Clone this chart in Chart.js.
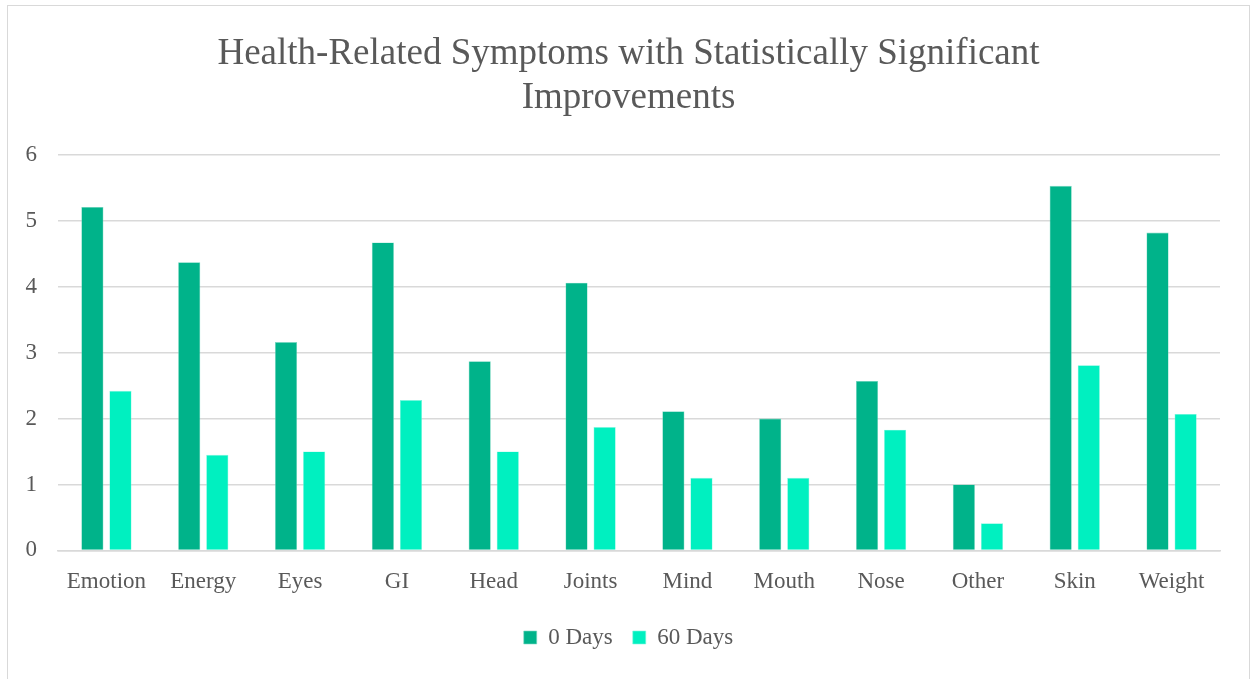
<!DOCTYPE html>
<html>
<head>
<meta charset="utf-8">
<script src="https://cdn.jsdelivr.net/npm/chart.js@4/dist/chart.umd.min.js"></script>
<style>
  html, body { margin: 0; padding: 0; background: #fff; }
  #frame {
    position: absolute; left: 7px; top: 5px;
    width: 1243px; height: 680px;
    border: 1px solid #d9d9d9; box-sizing: border-box;
  }
  #wrap { position: absolute; left: 0; top: 0; width: 1241px; height: 678px; }
</style>
</head>
<body>
<div id="frame"><div id="wrap"><canvas id="chart"></canvas></div></div>
<script>
// categories and series
const categories = ['Emotion', 'Energy', 'Eyes', 'GI', 'Head', 'Joints', 'Mind', 'Mouth', 'Nose', 'Other', 'Skin', 'Weight'];
const days0 = [5.21, 4.37, 3.16, 4.67, 2.87, 4.06, 2.11, 2.0, 2.57, 1.0, 5.53, 4.82];
const days60 = [2.42, 1.45, 1.50, 2.28, 1.50, 1.87, 1.10, 1.10, 1.83, 0.41, 2.81, 2.07];
const yTicks = [0, 1, 2, 3, 4, 5, 6];

const FONT = '"Liberation Serif", "DejaVu Serif", serif';
const TEXT = '#595959';

new Chart(document.getElementById('chart'), {
    type: 'bar',
    data: {
        labels: categories,
        datasets: [
            {
                label: '0 Days',
                data: days0,
                backgroundColor: '#00b38a',
                borderColor: '#7fd9c4',
                borderWidth: 0.6
            },
            {
                label: '60 Days',
                data: days60,
                backgroundColor: '#00f0c0',
                borderColor: '#7ff7df',
                borderWidth: 0.6
            }
        ]
    },
    options: {
        responsive: true,
        maintainAspectRatio: false,
        animation: false,
        datasets: {
            bar: { categoryPercentage: 0.58, barPercentage: 0.79 }
        },
        layout: { padding: { left: 0, right: 0, top: 16, bottom: 25 } },
        scales: {
            x: {
                grid: { display: false },
                border: { color: '#d9d9d9', width: 1.5 },
                ticks: { color: TEXT, font: { family: FONT, size: 23 }, padding: 10 }
            },
            y: {
                min: 0,
                max: 6,
                afterBuildTicks: axis => { axis.ticks = yTicks.map(v => ({ value: v })); },
                afterFit: axis => { axis.width = 50; },
                grid: { color: '#d9d9d9', lineWidth: 1.5, drawTicks: false },
                border: { display: false },
                ticks: { color: TEXT, font: { family: FONT, size: 23 }, padding: 21 }
            },
            // empty right margin so the plot stops short of the frame
            yRight: {
                position: 'right',
                min: 0,
                max: 6,
                grid: { display: false },
                border: { display: false },
                ticks: { display: false },
                afterFit: axis => { axis.width = 29; }
            }
        },
        plugins: {
            title: {
                display: true,
                text: ['Health-Related Symptoms with Statistically Significant', 'Improvements'],
                color: TEXT,
                font: { family: FONT, size: 37, weight: 'normal', lineHeight: 1.2 },
                padding: { top: 10, bottom: 34 }
            },
            legend: {
                position: 'bottom',
                labels: {
                    color: TEXT,
                    font: { family: FONT, size: 23 },
                    boxWidth: 13,
                    boxHeight: 13,
                    padding: 20
                }
            },
            tooltip: { enabled: false }
        }
    }
});
</script>
</body>
</html>
